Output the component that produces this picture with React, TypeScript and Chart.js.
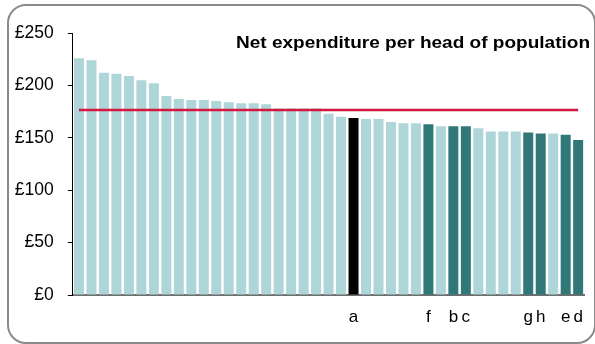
import React, { useEffect, useRef } from "react";
import { Chart, registerables } from "chart.js";

Chart.register(...registerables);

const CATEGORY_LABELS: string[] = [
  "", "", "", "", "", "", "", "", "", "", "",
  "", "", "", "", "", "", "", "", "", "", "",
  "a", "", "", "", "", "", "f", "", "b", "c", "",
  "", "", "", "g", "h", "", "e", "d",
];

const VALUES: number[] = [
  226, 224, 212, 211, 209, 205, 202, 190, 187, 186, 186,
  185, 184, 183, 183, 182, 178, 178, 178, 178, 173, 170,
  169, 168, 168, 165, 164, 164, 163, 161, 161, 161, 159,
  156, 156, 156, 155, 154, 154, 153, 148,
];

// group: 0 = other, 1 = highlighted comparator, 2 = selected authority
const GROUPS: number[] = [
  0, 0, 0, 0, 0, 0, 0, 0, 0, 0, 0,
  0, 0, 0, 0, 0, 0, 0, 0, 0, 0, 0,
  2, 0, 0, 0, 0, 0, 1, 0, 1, 1, 0,
  0, 0, 0, 1, 1, 0, 1, 1,
];

const AVERAGE = 176.5;
const Y_TICKS: number[] = [0, 50, 100, 150, 200, 250];
const TITLE = "Net expenditure per head of population";

const GROUP_COLORS = ["#aed5d8", "#2f7877", "#000000"];
const FONT = '"Liberation Sans", Arial, sans-serif';

const decorPlugin = {
  id: "decor",
  beforeDraw(chart: any) {
    const ctx = chart.ctx;
    ctx.save();
    ctx.strokeStyle = "#8a8a8a";
    ctx.lineWidth = 2;
    const x = 8, y = 5, w = 587, h = 338, r = 18;
    ctx.beginPath();
    ctx.moveTo(x + r, y);
    ctx.lineTo(x + w - r, y);
    ctx.arcTo(x + w, y, x + w, y + r, r);
    ctx.lineTo(x + w, y + h - r);
    ctx.arcTo(x + w, y + h, x + w - r, y + h, r);
    ctx.lineTo(x + r, y + h);
    ctx.arcTo(x, y + h, x, y + h - r, r);
    ctx.lineTo(x, y + r);
    ctx.arcTo(x, y, x + r, y, r);
    ctx.closePath();
    ctx.stroke();
    ctx.restore();
  },
  afterDraw(chart: any) {
    const ctx = chart.ctx;
    ctx.save();
    ctx.font = "bold 16.5px " + FONT;
    ctx.fillStyle = "#000";
    ctx.textBaseline = "alphabetic";
    ctx.textAlign = "left";
    const m = ctx.measureText(TITLE).width;
    const target = 354;
    const sx = target / m;
    ctx.translate(590 - target, 48);
    ctx.scale(sx, 1);
    ctx.fillText(TITLE, 0, 0);
    ctx.restore();
  },
};

export default function App() {
  const ref = useRef<HTMLCanvasElement | null>(null);

  useEffect(() => {
    if (!ref.current) return;
    const chart = new Chart(ref.current, {
      type: "bar",
      data: {
        labels: CATEGORY_LABELS,
        datasets: [
          {
            type: "line",
            data: CATEGORY_LABELS.map(() => AVERAGE),
            borderColor: "#d4173e",
            borderWidth: 2.5,
            pointRadius: 0,
            fill: false,
            order: 0,
          } as any,
          {
            type: "bar",
            data: VALUES,
            backgroundColor: GROUPS.map((g) => GROUP_COLORS[g]),
            borderWidth: 0,
            barPercentage: 0.8,
            categoryPercentage: 1.0,
            order: 1,
          },
        ],
      },
      options: {
        responsive: false,
        animation: false,
        layout: { padding: { left: 0, top: 33, right: 9.75, bottom: 0 } },
        plugins: {
          legend: { display: false },
          tooltip: { enabled: false },
          title: { display: false },
        },
        scales: {
          x: {
            grid: { display: false, drawTicks: false },
            border: { display: true, color: "#6e6e6e", width: 2 },
            ticks: {
              autoSkip: false,
              maxRotation: 0,
              minRotation: 0,
              padding: 12,
              color: "#000",
              font: { family: FONT, size: 17 },
            },
            afterFit(scale: any) {
              scale.height = 49;
            },
          },
          y: {
            min: 0,
            max: 250,
            afterBuildTicks(scale: any) {
              scale.ticks = Y_TICKS.map((v) => ({ value: v }));
            },
            grid: {
              drawOnChartArea: false,
              drawTicks: true,
              tickLength: 5,
              color: "#000",
            },
            border: { display: true, color: "#000", width: 1 },
            ticks: {
              padding: 14,
              color: "#000",
              font: { family: FONT, size: 17.5 },
              callback: (v: any) => "£" + v,
            },
            afterFit(scale: any) {
              scale.width = 72.75;
            },
          },
        },
      },
      plugins: [decorPlugin],
    });
    return () => chart.destroy();
  }, []);

  return (
    <div style={{ position: "fixed", left: 0, top: 0, width: 595, height: 344, background: "#fff" }}>
      <canvas ref={ref} width={595} height={344} style={{ width: 595, height: 344, display: "block" }} />
    </div>
  );
}
